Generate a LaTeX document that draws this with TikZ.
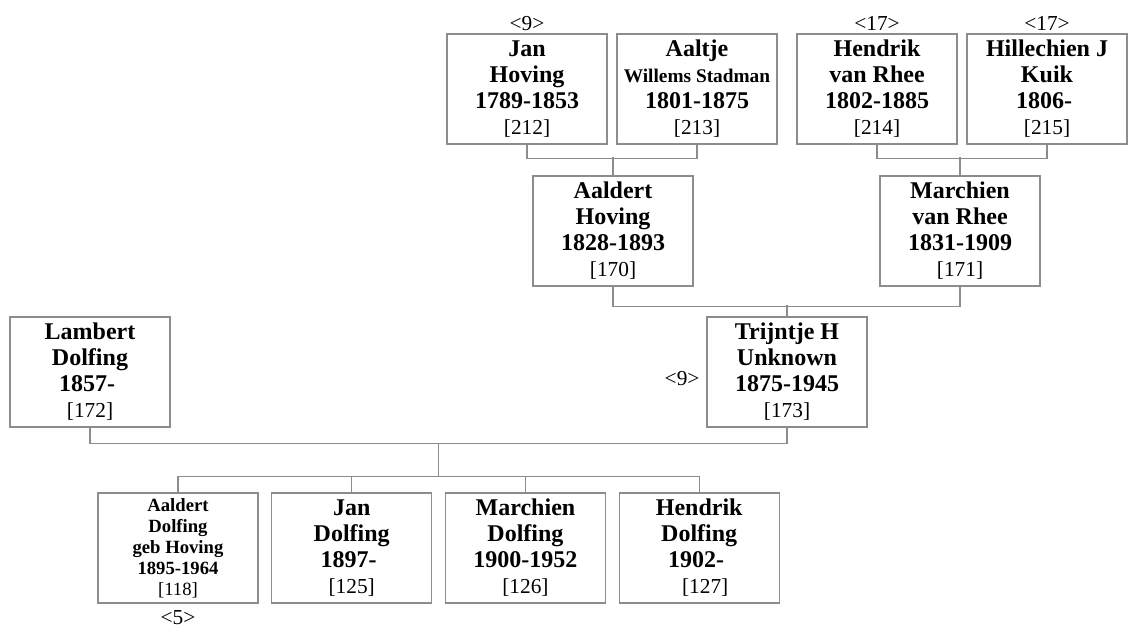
\documentclass[tikz,border=0pt]{standalone}
\usepackage{fontspec}
\setmainfont{Liberation Serif}
\usetikzlibrary{shapes,arrows}
\usetikzlibrary{positioning}
\tikzstyle{person} = [rectangle, minimum width=120pt, minimum height=82.5pt, inner sep=0pt, align=center,
     draw=black!45, line width=0.9pt, font=\fontsize{18}{19.5}\selectfont\bfseries]
\tikzstyle{child} = [person, font=\fontsize{14}{15.75}\selectfont\bfseries]
\tikzstyle{link} = [draw=black!45, line width=0.9pt]
\tikzstyle{gen} = [inner sep=0pt, font=\fontsize{16}{19.5}\selectfont]
\newcommand{\idnr}[1]{{\mdseries\fontsize{16}{19.5}\selectfont[#1]}}
\newcommand{\idsm}[1]{{\mdseries\fontsize{14}{15.75}\selectfont[#1]}}

\begin{document}
\begin{tikzpicture}[x=0.75pt,y=-0.75pt]
\useasboundingbox (0,0) rectangle (1132,627);

% great-grandparents
\node (jan) [person] at (527,89) {Jan\\Hoving\\1789-1853\\\idnr{212}};
\node (aaltje) [person, right of=jan, node distance=127.5pt] {Aaltje\\{\fontsize{14.5}{19.5}\selectfont Willems Stadman}\\1801-1875\\\idnr{213}};
\node (hendrik) [person] at (877,89) {Hendrik\\van Rhee\\1802-1885\\\idnr{214}};
\node (hillechien) [person, right of=hendrik, node distance=127.5pt] {Hillechien J\\Kuik\\1806-\kern0.25em\\\idnr{215}};

% grandparents
\node (aaldertH) [person] at (613,231) {Aaldert\\Hoving\\1828-1893\\\idnr{170}};
\node (marchienR) [person] at (960,231) {Marchien\\van Rhee\\1831-1909\\\idnr{171}};

% parents
\node (lambert) [person] at (90,372) {Lambert\\Dolfing\\1857-\kern0.25em\\\idnr{172}};
\node (trijntje) [person] at (787,372) {Trijntje H\\Unknown\\1875-1945\\\idnr{173}};

% children
\node (aaldertD) [child] at (178,548) {Aaldert\\Dolfing\\geb Hoving\\1895-1964\\\idsm{118}};
\node (janD) [person, right of=aaldertD, node distance=130.3pt] {Jan\\Dolfing\\1897-\kern0.25em\\\idnr{125}};
\node (marchienD) [person, right of=janD, node distance=130.3pt] {Marchien\\Dolfing\\1900-1952\\\idnr{126}};
\node (hendrikD) [person, right of=marchienD, node distance=130.3pt] {Hendrik\\Dolfing\\1902-\kern0.25em\\\kern0.5em\idnr{127}};

% generation marks
\node (genJan) [gen, anchor=base] at ([yshift=2.25pt]jan.north) {<9>};
\node (genHendrik) [gen, anchor=base] at ([yshift=2.25pt]hendrik.north) {<17>};
\node (genHillechien) [gen, anchor=base] at ([yshift=2.25pt]hillechien.north) {<17>};
\node (genTrijntje) [gen, anchor=base east] at ([xshift=-5pt,yshift=-9.75pt]trijntje.west) {<9>};
\node (genAaldert) [gen, anchor=base] at ([yshift=-15.75pt]aaldertD.south) {<5>};

% family lines
\draw[link] (jan.south) -- ++(0,14) -| (aaltje.south);
\draw[link] (aaldertH.north) -- ++(0,-18);
\draw[link] (hendrik.south) -- ++(0,14) -| (hillechien.south);
\draw[link] (marchienR.north) -- ++(0,-18);
\draw[link] (aaldertH.south) -- ++(0,20) -| (marchienR.south);
\draw[link] (trijntje.north) -- ++(0,-11);
\draw[link] (lambert.south) -- ++(0,16) -| (trijntje.south);
\coordinate (fam) at (438.5,443);
\coordinate (kids) at (438.5,477);
\draw[link] (fam) -- (kids);
\draw[link] (aaldertD.north) -- ++(0,-16) -| (hendrikD.north);
\draw[link] (janD.north) -- ++(0,-16);
\draw[link] (marchienD.north) -- ++(0,-16);

\end{tikzpicture}
\end{document}
